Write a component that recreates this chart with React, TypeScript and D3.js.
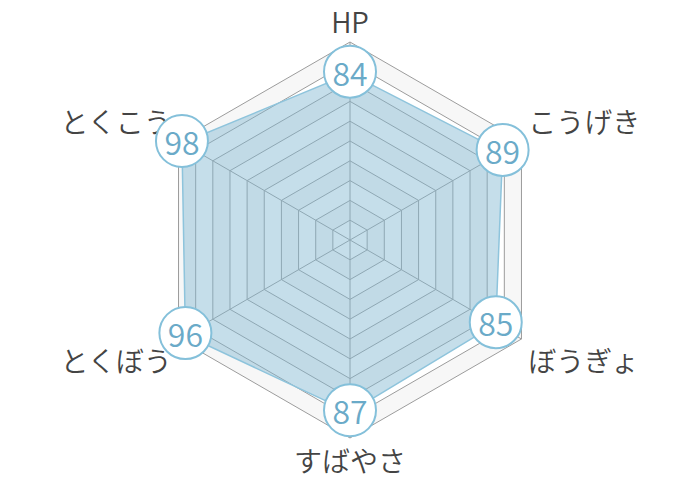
import React from "react";
import * as d3 from "d3";

const axes = ["HP", "こうげき", "ぼうぎょ", "すばやさ", "とくぼう", "とくこう"];
const values = [84, 89, 85, 87, 96, 98];
const ringTicks = [10, 20, 30, 40, 50, 60, 70, 80, 90, 100];

const W = 700;
const H = 480;
const CX = 350;
const CY = 240;
const RADIUS = 198;

const r = d3.scaleLinear().domain([0, 100]).range([0, RADIUS]);
const angle = d3
  .scaleLinear()
  .domain([0, axes.length])
  .range([0, 2 * Math.PI]);

const pt = (i: number, v: number): [number, number] => {
  const a = angle(i);
  return [CX + Math.sin(a) * r(v), CY - Math.cos(a) * r(v)];
};

const ringPath = (v: number) =>
  d3.line()(axes.map((_, i) => pt(i, v)))! + "Z";

const App = () => {
  const dataPath =
    d3.line()(values.map((v, i) => pt(i, v)))! + "Z";

  const font = "'Noto Sans CJK JP', 'Noto Sans', sans-serif";

  return (
    <svg
      width={W}
      height={H}
      style={{ position: "absolute", left: 0, top: 0, overflow: "visible" }}
    >
      <rect width={W} height={H} fill="#fff" />
      {/* bands, outer first */}
      {ringTicks
        .slice()
        .reverse()
        .map((t, k) => (
          <path
            key={"band" + t}
            d={ringPath(t)}
            fill={k % 2 === 0 ? "#f7f7f7" : "#fff"}
          />
        ))}
      {ringTicks.map((t) => (
        <path
          key={"ring" + t}
          d={ringPath(t)}
          fill="none"
          stroke="#9c9c9c"
          strokeWidth={1}
        />
      ))}
      {axes.map((_, i) => {
        const [x, y] = pt(i, 100);
        return (
          <line
            key={"spoke" + i}
            x1={CX}
            y1={CY}
            x2={x}
            y2={y}
            stroke="#9c9c9c"
            strokeWidth={1}
          />
        );
      })}
      <path
        d={dataPath}
        fill="#7fb6d1"
        fillOpacity={0.45}
        stroke="#8ec4dc"
        strokeWidth={1.5}
      />
      {axes.map((name, i) => {
        const a = angle(i);
        const [x, y] = pt(i, 104);
        const s = Math.sin(a);
        const c = Math.cos(a);
        const anchor = Math.abs(s) < 0.01 ? "middle" : s > 0 ? "start" : "end";
        const dy = Math.abs(c) > 0.99 ? (c > 0 ? -13 : 14) : c > 0 ? -16 : 17;
        return (
          <text
            key={"label" + i}
            x={x}
            y={y + dy}
            textAnchor={anchor}
            dominantBaseline="central"
            fontFamily={font}
            fontWeight={350}
            fontSize={28}
            fill="#444"
          >
            {name}
          </text>
        );
      })}
      {values.map((v, i) => {
        const [x, y] = pt(i, v);
        return (
          <g key={"val" + i} transform={`translate(${x},${y - 2})`}>
            <circle r={26} fill="#fff" stroke="#84c0da" strokeWidth={2} />
            <text
              textAnchor="middle"
              dominantBaseline="central"
              fontFamily={font}
              fontWeight={350}
              fontSize={32}
              fill="#6aaac8"
            >
              {v}
            </text>
          </g>
        );
      })}
    </svg>
  );
};

export default App;
